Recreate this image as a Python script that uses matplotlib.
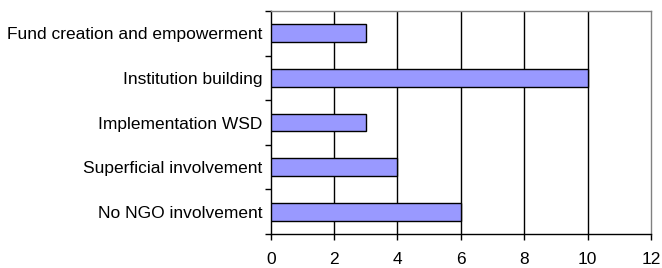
import matplotlib
matplotlib.use("Agg")
import matplotlib.pyplot as plt

categories = ["Fund creation and empowerment", "Institution building", "Implementation WSD",
              "Superficial involvement", "No NGO involvement"]
values = [3, 10, 3, 4, 6]
xticks = [0, 2, 4, 6, 8, 10, 12]

plt.rcParams['font.family'] = ['Liberation Sans', 'DejaVu Sans']

fig = plt.figure(figsize=(6.62, 2.68), dpi=100)
W, H = 662, 268
left, right, top, bottom = 270.7, 651, 11, 234
ax = fig.add_axes([left / W, 1 - bottom / H, (right - left) / W, (bottom - top) / H])

n = len(categories)
ypos = list(range(n - 1, -1, -1))
ax.barh(ypos, values, height=0.4, color="#9999FF", edgecolor="black", linewidth=1.0, zorder=3)

ax.set_xlim(0, 12)
ax.set_ylim(-0.5, n - 0.5)
ax.set_xticks(xticks)
ax.set_xticklabels([str(t) for t in xticks], fontsize=12.5)
ax.set_yticks(ypos)
ax.set_yticklabels(categories, fontsize=12.5)
ax.set_yticks([i - 0.5 for i in range(n + 1)], minor=True)
ax.tick_params(axis='y', which='major', length=0, pad=6)
ax.tick_params(axis='y', which='minor', length=4.3, width=1, color='black', direction='out')
ax.tick_params(axis='x', length=4.3, width=1, color='black', direction='out', pad=9)

for t in xticks[1:-1]:
    ax.axvline(t, color='black', linewidth=1.0, zorder=1)

ax.spines['left'].set_color('black')
ax.spines['bottom'].set_color('black')
ax.spines['top'].set_color('#808080')
ax.spines['right'].set_color('#808080')
for s in ax.spines.values():
    s.set_linewidth(1.0)

fig.savefig("out.png", dpi=100)
